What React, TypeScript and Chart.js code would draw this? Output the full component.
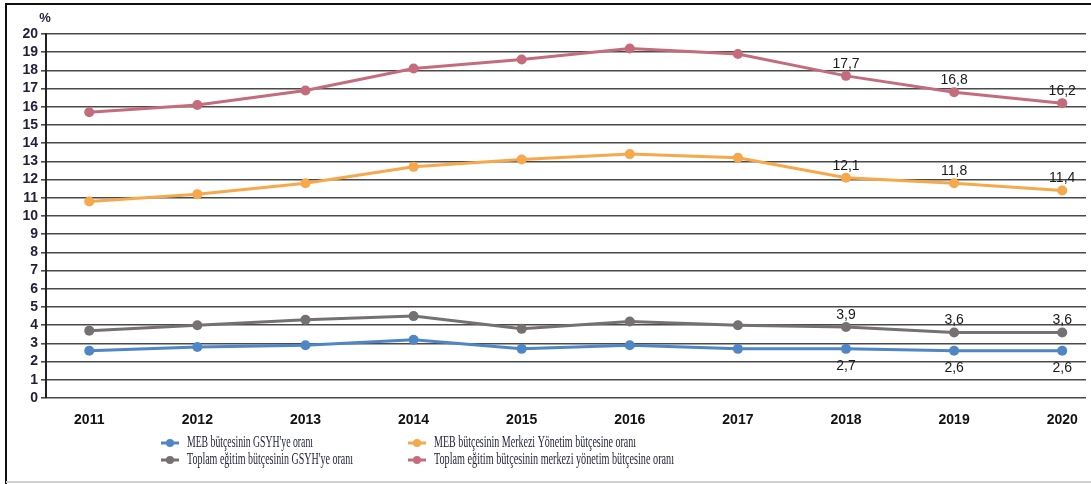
import React, { useEffect, useRef } from "react";
import { Chart, registerables } from "chart.js";

Chart.register(...registerables);

const years = [2011, 2012, 2013, 2014, 2015, 2016, 2017, 2018, 2019, 2020];
const mebGsyh = [2.6, 2.8, 2.9, 3.2, 2.7, 2.9, 2.7, 2.7, 2.6, 2.6];
const mebMerkezi = [10.8, 11.2, 11.8, 12.7, 13.1, 13.4, 13.2, 12.1, 11.8, 11.4];
const toplamGsyh = [3.7, 4.0, 4.3, 4.5, 3.8, 4.2, 4.0, 3.9, 3.6, 3.6];
const toplamMerkezi = [15.7, 16.1, 16.9, 18.1, 18.6, 19.2, 18.9, 17.7, 16.8, 16.2];
const seriesNames = [
  "MEB bütçesinin GSYH'ye oranı",
  "MEB bütçesinin Merkezi Yönetim bütçesine oranı",
  "Toplam eğitim bütçesinin GSYH'ye oranı",
  "Toplam eğitim bütçesinin merkezi yönetim bütçesine oranı",
];
const labeledYears = [2018, 2019, 2020];
const colors = ["#4f86c6", "#f7a84a", "#767171", "#c46c7c"];
const FONT = "'Liberation Sans', sans-serif";
const LEGEND_FONT = "'Liberation Serif', serif";

export default function App() {
  const ref = useRef<HTMLCanvasElement | null>(null);
  useEffect(() => {
    if (!ref.current) return;
    const all = [mebGsyh, mebMerkezi, toplamGsyh, toplamMerkezi];
    const datasets = all.map((vals, i) => ({
      label: seriesNames[i],
      data: vals.map((v, j) => ({ x: years[j], y: v })),
      borderColor: colors[i],
      backgroundColor: colors[i],
      borderWidth: 3,
      pointRadius: 5,
      pointHoverRadius: 5,
      pointBorderWidth: 0,
      tension: 0,
    }));

    const extras = {
      id: "extras",
      beforeDraw(chart: any) {
        const c = chart.ctx;
        c.save();
        c.fillStyle = "#fff";
        c.fillRect(0, 0, chart.width, chart.height);
        c.strokeStyle = "#111";
        c.lineWidth = 2;
        c.beginPath();
        c.moveTo(6, 484);
        c.lineTo(6, 4);
        c.lineTo(1091, 4);
        c.stroke();
        c.strokeStyle = "#d0d0d0";
        c.lineWidth = 2;
        c.beginPath();
        c.moveTo(6, 482);
        c.lineTo(1091, 482);
        c.stroke();
        c.restore();
      },
      afterDraw(chart: any) {
        const c = chart.ctx;
        c.save();
        // % title
        c.fillStyle = "#1f1f3a";
        c.font = `bold 13px ${FONT}`;
        c.textAlign = "center";
        c.textBaseline = "middle";
        c.fillText("%", 45, 18);
        // data labels
        c.font = `14px ${FONT}`;
        c.fillStyle = "#1a1a1a";
        chart.data.datasets.forEach((ds: any, di: number) => {
          const meta = chart.getDatasetMeta(di);
          ds.data.forEach((p: any, j: number) => {
            if (!labeledYears.includes(p.x)) return;
            const el = meta.data[j];
            const txt = p.y.toFixed(1).replace(".", ",");
            const dy = di === 0 ? 17 : -12;
            c.fillText(txt, el.x, el.y + dy);
          });
        });
        // legend
        const items = [
          { x: 170, y: 443, i: 0, w: 126 },
          { x: 417, y: 443, i: 1, w: 202 },
          { x: 170, y: 460, i: 2, w: 166 },
          { x: 417, y: 460, i: 3, w: 240 },
        ];
        c.font = `16px ${LEGEND_FONT}`;
        c.textAlign = "left";
        items.forEach((it) => {
          c.strokeStyle = colors[it.i];
          c.fillStyle = colors[it.i];
          c.lineWidth = 3;
          c.beginPath();
          c.moveTo(it.x - 9, it.y);
          c.lineTo(it.x + 9, it.y);
          c.stroke();
          c.beginPath();
          c.arc(it.x, it.y, 4, 0, Math.PI * 2);
          c.fill();
          c.fillStyle = "#1f1f3a";
          const mw = c.measureText(seriesNames[it.i]).width;
          const sx = it.w / mw;
          c.save();
          c.translate(it.x + 17, it.y);
          c.scale(sx, 1);
          c.fillText(seriesNames[it.i], 0, 0);
          c.restore();
        });
        c.restore();
      },
    };

    const chart = new Chart(ref.current, {
      type: "line",
      data: { datasets },
      plugins: [extras],
      options: {
        animation: false,
        responsive: false,
        events: [],
        layout: { padding: { top: 34, right: 2, left: 0, bottom: 0 } },
        plugins: { legend: { display: false }, tooltip: { enabled: false } },
        scales: {
          x: {
            type: "linear",
            min: 2010.6,
            max: 2020.22,
            afterBuildTicks: (s: any) => {
              s.ticks = years.map((y) => ({ value: y }));
            },
            afterFit: (s: any) => {
              s.height = 86;
            },
            grid: { display: false },
            border: { display: false },
            ticks: {
              callback: (v: any) => String(v),
              color: "#111",
              font: { family: FONT, size: 14, weight: "bold" },
              padding: 6,
              autoSkip: false,
              maxRotation: 0,
            },
          },
          y: {
            min: 0,
            max: 20,
            afterFit: (s: any) => {
              s.width = 46;
            },
            grid: { color: "#4a4a4a", lineWidth: 1.6, tickLength: 5 },
            border: { display: true, color: "#222", width: 2 },
            ticks: {
              stepSize: 1,
              autoSkip: false,
              color: "#1f1f3a",
              font: { family: FONT, size: 14, weight: "bold" },
              padding: 3,
            },
          },
        },
      },
    });
    return () => chart.destroy();
  }, []);
  return (
    <div style={{ position: "absolute", left: 0, top: 0, width: 1091, height: 484 }}>
      <canvas ref={ref} width={1091} height={484} style={{ width: 1091, height: 484 }} />
    </div>
  );
}
